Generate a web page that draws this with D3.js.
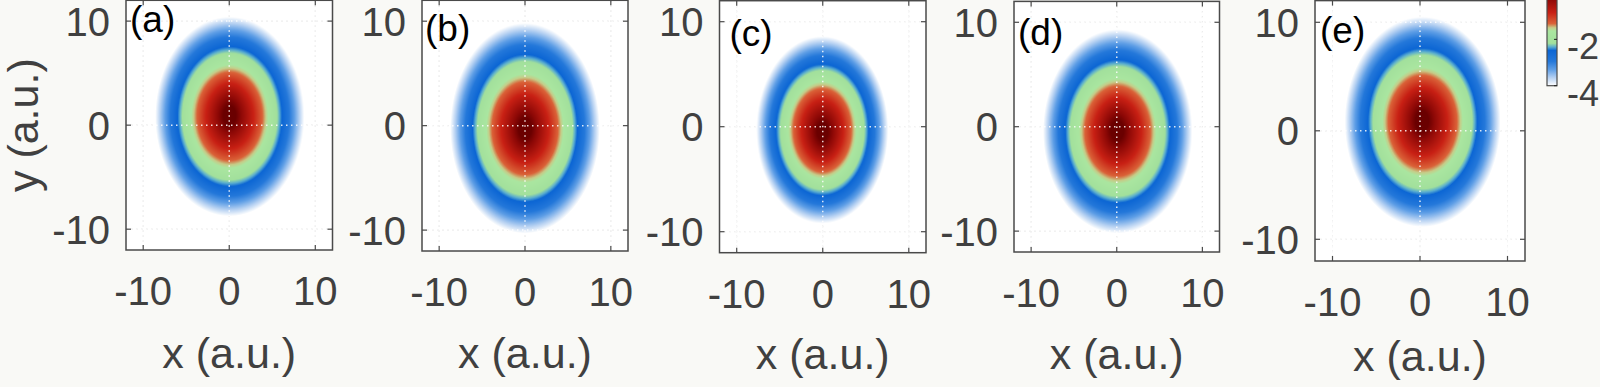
<!DOCTYPE html>
<html>
<head>
<meta charset="utf-8">
<script src="https://cdn.jsdelivr.net/npm/d3@7"></script>
<style>
  html, body { margin: 0; padding: 0; background: #f9f9f6; }
  svg { display: block; font-family: "Liberation Sans", Arial, sans-serif; }
</style>
</head>
<body>
<svg id="fig" width="1600" height="387"></svg>
<script>
      // panel tags
      var panelLabels = ['(a)', '(b)', '(c)', '(d)', '(e)'];

      // outer (white) edge of each density blob, in a.u.
      var leftEdge   = [-8.6, -8.7, -7.7, -8.6, -8.6];
      var rightEdge  = [ 8.7,  8.7,  7.6,  8.8,  9.2];
      var topEdge    = [10.4,  9.8,  8.6,  9.3, 10.5];
      var bottomEdge = [-8.75, -10.3, -9.2, -10.2, -8.85];

      // where the dark red maximum sits
      var peakX = [0, 0, 0, 0, 0.1];
      var peakY = [1.5, -0.4, -1.4, 0, 1.3];

      var axisTicks = [-10, 0, 10];
      var axisDomain = [-12, 12];

      // colour bar (log10 density)
      var cbTicks = [-2, -4];
      var cbStops  = [0, -0.25, -0.85, -1.32, -1.5, -1.64, -2.17, -2.33, -2.48, -2.95, -3.3, -3.65, -4.0];
      var cbColors = ['#6a0000', '#8c0806', '#c82014', '#da6238', '#c6cc88', '#aae6a0', '#a2e09c',
                      '#58acd0', '#0c66d4', '#2478da', '#5e9ee6', '#b4d0f2', '#ffffff'];

      // layout of each axes box in pixels
      var boxL = [126, 422, 719.5, 1014, 1315];
      var boxR = [332.5, 628, 926, 1219.5, 1525];
      var boxT = [0.3, 0.3, 0.7, 1.4, 0.6];
      var boxB = [250, 251, 252.7, 252, 261];
      var xLabelY = [368, 368, 369, 369, 371];
      var tagDX = [4, 3, 10, 4, 5];
      var tagY = [32, 41, 46, 45, 43];

      var svg = d3.select('#fig');
      var inkColor = '#404040';

      var colorScale = d3.scaleLinear()
                         .domain(cbStops)
                         .range(cbColors)
                         .interpolate(d3.interpolateRgb)
                         .clamp(true);

      // lookup table so we don't parse colours per pixel
      var lut = [];
      for (var k = 0; k <= 800; k++) {
        lut.push(d3.rgb(colorScale(-k / 200)));
      }

      function logDensity(i, x, y) {
        var cx = (leftEdge[i] + rightEdge[i]) / 2, hw = (rightEdge[i] - leftEdge[i]) / 2;
        var cy = (topEdge[i] + bottomEdge[i]) / 2, hh = (topEdge[i] - bottomEdge[i]) / 2;
        var r = Math.hypot((x - cx) / hw, (y - cy) / hh);
        var v = -4 * Math.pow(r, 1.35);
        v += 0.2 * Math.exp(-(Math.pow((x - peakX[i]) / 1.3, 2) + Math.pow((y - peakY[i]) / 2.4, 2)));
        return Math.min(v, 0);
      }

      function drawPanel(i) {
        var xScale = d3.scaleLinear().domain(axisDomain).range([boxL[i], boxR[i]]);
        var yScale = d3.scaleLinear().domain(axisDomain).range([boxB[i], boxT[i]]);
        var w = boxR[i] - boxL[i], h = boxB[i] - boxT[i];

        var g = svg.append('g');

        g.append('rect')
          .attr('x', boxL[i]).attr('y', boxT[i])
          .attr('width', w).attr('height', h)
          .style('fill', '#fff');

        var grid = function(color, width, opacity) {
          var gg = g.append('g')
                    .style('stroke', color)
                    .style('stroke-width', width)
                    .style('opacity', opacity)
                    .style('stroke-dasharray', '1.5,3.5');
          gg.selectAll('.gx').data(axisTicks).enter().append('line')
            .attr('x1', d => xScale(d)).attr('x2', d => xScale(d))
            .attr('y1', boxT[i]).attr('y2', boxB[i]);
          gg.selectAll('.gy').data(axisTicks).enter().append('line')
            .attr('y1', d => yScale(d)).attr('y2', d => yScale(d))
            .attr('x1', boxL[i]).attr('x2', boxR[i]);
        };
        grid('#c4c4c4', 1, 1);

        // density map
        var W = Math.round(w), H = Math.round(h);
        var canvas = document.createElement('canvas');
        canvas.width = W; canvas.height = H;
        var ctx = canvas.getContext('2d');
        var img = ctx.createImageData(W, H);
        for (var py = 0; py < H; py++) {
          var yv = yScale.invert(boxT[i] + (py + 0.5) * h / H);
          for (var px = 0; px < W; px++) {
            var xv = xScale.invert(boxL[i] + (px + 0.5) * w / W);
            var v = logDensity(i, xv, yv);
            var o = (py * W + px) * 4;
            if (v < -4) { img.data[o + 3] = 0; continue; }
            var c = lut[Math.round(-v * 200)];
            img.data[o] = c.r; img.data[o + 1] = c.g; img.data[o + 2] = c.b; img.data[o + 3] = 255;
          }
        }
        ctx.putImageData(img, 0, 0);
        g.append('image')
          .attr('x', boxL[i]).attr('y', boxT[i])
          .attr('width', w).attr('height', h)
          .attr('preserveAspectRatio', 'none')
          .attr('href', canvas.toDataURL());

        grid('#ffffff', 1.5, 0.85);

        // inward ticks on all four sides
        var tickLen = 5;
        var tk = g.append('g').style('stroke', '#4a4a4a').style('stroke-width', 1.2);
        axisTicks.forEach(function(t) {
          tk.append('line').attr('x1', xScale(t)).attr('x2', xScale(t)).attr('y1', boxB[i]).attr('y2', boxB[i] - tickLen);
          tk.append('line').attr('x1', xScale(t)).attr('x2', xScale(t)).attr('y1', boxT[i]).attr('y2', boxT[i] + tickLen);
          tk.append('line').attr('y1', yScale(t)).attr('y2', yScale(t)).attr('x1', boxL[i]).attr('x2', boxL[i] + tickLen);
          tk.append('line').attr('y1', yScale(t)).attr('y2', yScale(t)).attr('x1', boxR[i]).attr('x2', boxR[i] - tickLen);
        });
        g.append('rect')
          .attr('x', boxL[i]).attr('y', boxT[i])
          .attr('width', w).attr('height', h)
          .style('fill', 'none').style('stroke', '#4a4a4a').style('stroke-width', 1.5);

        g.selectAll('.xt').data(axisTicks).enter().append('text')
          .attr('x', d => xScale(d)).attr('y', boxB[i] + 55)
          .attr('text-anchor', 'middle')
          .style('font-size', '40px').style('fill', inkColor)
          .text(d => d);
        g.selectAll('.yt').data(axisTicks).enter().append('text')
          .attr('x', boxL[i] - 16).attr('y', d => yScale(d))
          .attr('dy', '0.36em')
          .attr('text-anchor', 'end')
          .style('font-size', '40px').style('fill', inkColor)
          .text(d => d);

        g.append('text')
          .attr('x', xScale(0)).attr('y', xLabelY[i])
          .attr('text-anchor', 'middle')
          .style('font-size', '43px').style('fill', inkColor)
          .text('x (a.u.)');

        g.append('text')
          .attr('x', boxL[i] + tagDX[i]).attr('y', tagY[i])
          .style('font-size', '37px').style('fill', '#000')
          .text(panelLabels[i]);

        if (i == 0) {
          g.append('text')
            .attr('transform', 'translate(38,' + yScale(0) + ') rotate(-90)')
            .attr('text-anchor', 'middle')
            .style('font-size', '43px').style('fill', inkColor)
            .text('y (a.u.)');
        }
      }

      for (var i = 0; i < panelLabels.length; i++) drawPanel(i);

      // colour bar
      var cbX = 1547, cbW = 10;
      var cbScale = d3.scaleLinear().domain([0, -4]).range([-7, 85.7]);
      var defs = svg.append('defs');
      var grad = defs.append('linearGradient').attr('id', 'cbGrad')
                     .attr('x1', 0).attr('x2', 0).attr('y1', 0).attr('y2', 1);
      grad.selectAll('stop').data(cbStops).enter().append('stop')
          .attr('offset', d => (cbScale(d) - cbScale(0)) / (cbScale(-4) - cbScale(0)))
          .attr('stop-color', d => colorScale(d));
      svg.append('rect')
         .attr('x', cbX).attr('y', cbScale(0))
         .attr('width', cbW).attr('height', cbScale(-4) - cbScale(0))
         .style('fill', 'url(#cbGrad)')
         .style('stroke', '#4a4a4a').style('stroke-width', 1.2);
      svg.selectAll('.cbt').data(cbTicks).enter().append('line')
         .attr('x1', cbX + cbW - 3).attr('x2', cbX + cbW)
         .attr('y1', d => cbScale(d)).attr('y2', d => cbScale(d))
         .style('stroke', '#222').style('stroke-width', 1);
      svg.selectAll('.cbl').data(cbTicks).enter().append('text')
         .attr('x', 1567).attr('y', d => cbScale(d) + 7)
         .attr('dy', '0.36em')
         .style('font-size', '36px').style('fill', inkColor)
         .text(d => d);
</script>
</body>
</html>
